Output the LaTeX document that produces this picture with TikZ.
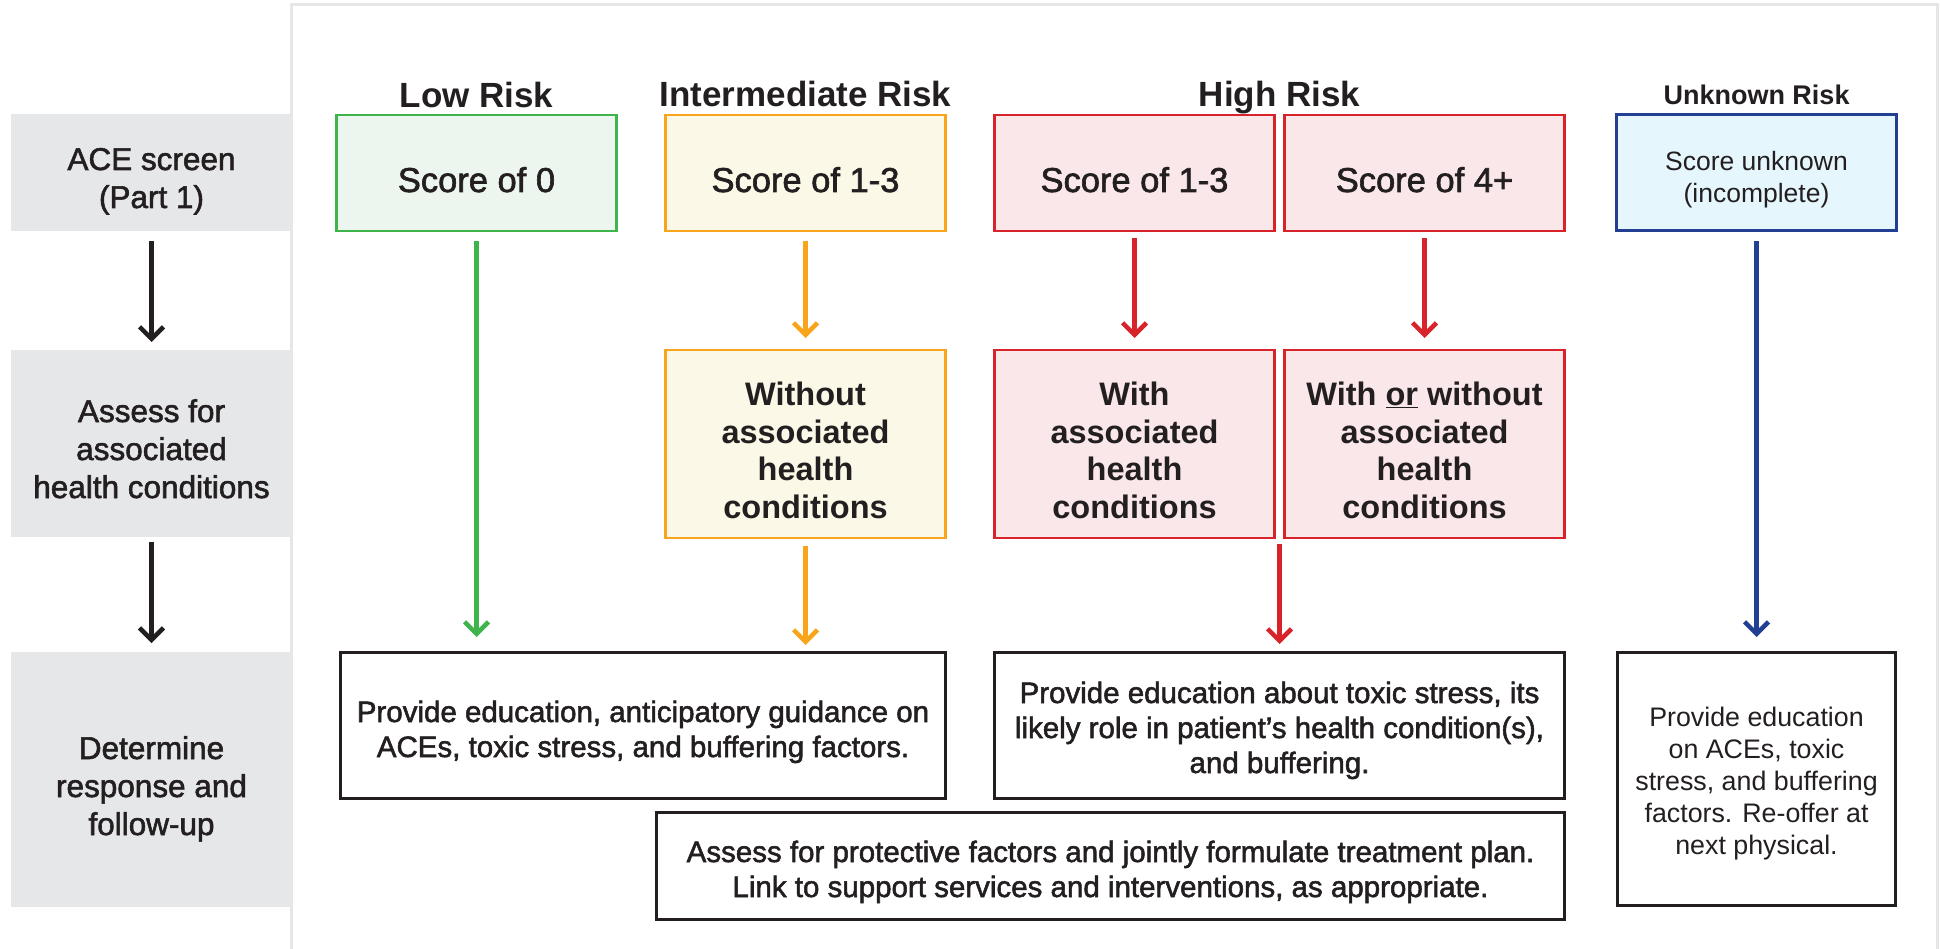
\documentclass[tikz,border=0pt]{standalone}
\usepackage{fontspec}
\setmainfont{Liberation Sans}
\newfontfamily\mediumfont[FakeBold=1.8]{Liberation Sans}
\usetikzlibrary{positioning,calc,arrows.meta}

\definecolor{inkBlack}{HTML}{231F20}
\definecolor{stageGray}{HTML}{E6E7E9}
\definecolor{frameGray}{HTML}{E6E6E6}
\definecolor{lowGreen}{HTML}{3DB54A}
\definecolor{lowFill}{HTML}{ECF6EE}
\definecolor{interOrange}{HTML}{F8A51B}
\definecolor{interFill}{HTML}{FBF8E7}
\definecolor{highRed}{HTML}{D8232A}
\definecolor{highFill}{HTML}{F9E7E9}
\definecolor{unknownBlue}{HTML}{233F93}
\definecolor{unknownFill}{HTML}{E5F6FD}

\begin{document}
\begin{tikzpicture}[x=1pt, y=-1pt, inner sep=0pt, outer sep=0pt, text=inkBlack]
	\tikzset{
		stagebox/.style={rectangle, fill=stageGray, minimum width=281pt, align=center, text depth=0pt, font=\mediumfont\fontsize{31.5}{38}\selectfont},
		riskbox/.style={rectangle, draw, line width=2.5pt, minimum width=280pt, minimum height=116pt, align=center, text height=38pt, text depth=0pt, font=\mediumfont\fontsize{34.5}{41}\selectfont},
		condbox/.style={riskbox, minimum height=188pt, text height=148pt, font=\fontsize{32.5}{37.5}\selectfont\bfseries},
		respbox/.style={rectangle, draw=inkBlack, line width=3pt, fill=white, align=center, text depth=0pt, font=\mediumfont\fontsize{29.5}{35}\selectfont},
		risklabel/.style={anchor=base, font=\fontsize{35}{42}\selectfont\bfseries},
		stagearrow/.style={draw=inkBlack, line width=4.5pt, -{Straight Barb[length=12pt,width=24pt]}},
		riskarrow/.style={line width=4.5pt, -{Straight Barb[length=12pt,width=24pt]}}
	}
	\useasboundingbox (0,0) rectangle (1940,949);
	\draw[frameGray, line width=3pt] (291,960) -- (291,5) -- (1937,5) -- (1937,960);

	% stages
	\node[stagebox, minimum height=117pt, text height=71pt] (aceScreen) at (151.5,172.5) {ACE screen\\(Part 1)};
	\node[stagebox, minimum height=187pt, text height=109pt, below=119pt of aceScreen] (assessCond) {Assess for\\associated\\health conditions};
	\node[stagebox, minimum height=255pt, text height=111pt, below=115pt of assessCond] (determineResp) {Determine\\response and\\follow-up};

	% scores
	\node[riskbox, draw=lowGreen, fill=lowFill] (lowScore) at (476.5,173) {Score of 0};
	\node[riskbox, draw=interOrange, fill=interFill, right=49pt of lowScore] (interScore) {Score of 1-3};
	\node[riskbox, draw=highRed, fill=highFill, right=49pt of interScore] (highScoreA) {Score of 1-3};
	\node[riskbox, draw=highRed, fill=highFill, right=10pt of highScoreA] (highScoreB) {Score of 4+};
	\node[riskbox, draw=unknownBlue, fill=unknownFill, line width=3pt, right=52pt of highScoreB, text height=60pt, font=\fontsize{26.5}{32}\selectfont] (unknownScore) {Score unknown\\(incomplete)};

	\node[above=7pt of lowScore, risklabel] (lowLabel) {Low Risk};
	\node[above=8pt of interScore, risklabel] (interLabel) {Intermediate Risk};
	\node[risklabel] (highLabel) at ($(highScoreA.north east)!0.5!(highScoreB.north west) + (0,-8)$) {High Risk};
	\node[above=10pt of unknownScore, risklabel, font=\fontsize{27}{32}\selectfont\bfseries] (unknownLabel) {Unknown Risk};

	% conditions
	\node[condbox, draw=interOrange, fill=interFill, below=119pt of interScore] (interCond) {Without\\associated\\health\\conditions};
	\node[condbox, draw=highRed, fill=highFill, below=119pt of highScoreA] (highCondA) {With\\associated\\health\\conditions};
	\node[condbox, draw=highRed, fill=highFill, below=119pt of highScoreB] (highCondB) {With \underline{or} without\\associated\\health\\conditions};

	% responses
	\node[respbox, minimum width=605pt, minimum height=146pt, text height=64pt, below=114pt of interCond.south east, anchor=north east] (lowResp) {Provide education, anticipatory guidance on\\ACEs, toxic stress, and buffering factors.};
	\node[respbox, minimum width=570pt, minimum height=146pt, text height=96pt, below=114pt of highCondA.south west, anchor=north west] (highResp) {Provide education about toxic stress, its\\likely role in patient’s health condition(s),\\and buffering.};
	\node[respbox, minimum width=908pt, minimum height=107pt, text height=63pt, below=14pt of highResp.south east, anchor=north east] (jointPlan) {Assess for protective factors and jointly formulate treatment plan.\\Link to support services and interventions, as appropriate.};
	\node[respbox, minimum width=278pt, minimum height=253pt, text height=151pt, below=421pt of unknownScore, font=\fontsize{26.8}{32}\selectfont] (unknownResp) {Provide education\\on ACEs, toxic\\stress, and buffering\\factors. Re-offer at\\next physical.};

	\draw[stagearrow, shorten <=10pt, shorten >=8pt] (aceScreen) -- (assessCond);
	\draw[stagearrow, shorten <=5pt, shorten >=9pt] (assessCond) -- (determineResp);
	\draw[riskarrow, lowGreen, shorten <=10pt, shorten >=15pt] (lowScore.south) -- (lowScore.south |- lowResp.north);
	\draw[riskarrow, interOrange, shorten <=10pt, shorten >=12pt] (interScore) -- (interCond);
	\draw[riskarrow, interOrange, shorten <=8pt, shorten >=7pt] (interCond.south) -- (interCond.south |- lowResp.north);
	\draw[riskarrow, highRed, shorten <=7pt, shorten >=12pt] (highScoreA) -- (highCondA);
	\draw[riskarrow, highRed, shorten <=7pt, shorten >=12pt] (highScoreB) -- (highCondB);
	\draw[riskarrow, highRed, shorten <=6pt, shorten >=8pt] (highResp.north |- highCondA.south) -- (highResp.north);
	\draw[riskarrow, unknownBlue, shorten <=10pt, shorten >=15pt] (unknownScore) -- (unknownResp);
\end{tikzpicture}
\end{document}
